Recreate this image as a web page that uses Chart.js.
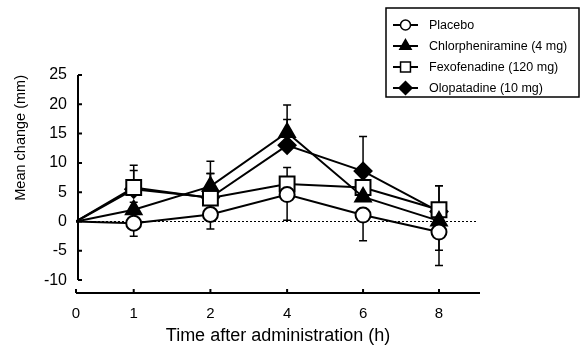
<!DOCTYPE html>
<html>
<head>
<meta charset="utf-8">
<script src="https://cdn.jsdelivr.net/npm/chart.js@4.4.0/dist/chart.umd.min.js"></script>
<style>
  html, body { margin: 0; padding: 0; background: #fff; }
</style>
</head>
<body>
<canvas id="chart" width="581" height="347"></canvas>
<script>
// Time points (h) and where each one sits along the x axis (the axis is not to scale)
const timeLabels = ['0', '1', '2', '4', '6', '8'];
const timeSlots = [0, 0.76, 1.77, 2.78, 3.78, 4.78];
const yTicks = [-10, -5, 0, 5, 10, 15, 20, 25];

const seriesNames = ['Placebo', 'Chlorpheniramine (4 mg)', 'Fexofenadine (120 mg)', 'Olopatadine (10 mg)'];

// Mean change (mm) and error bar (signed: + drawn up, - drawn down)
const placebo = [0, -0.3, 1.2, 4.6, 1.1, -1.8];
const placeboErr = [0, -2.2, -2.5, -4.4, -4.4, -5.7];
const chlorpheniramine = [0, 2.0, 6.0, 15.2, 4.2, 0.1];
const chlorpheniramineErr = [0, 1.3, 4.3, 4.7, 3.8, -5.0];
const fexofenadine = [0, 5.8, 4.0, 6.4, 5.8, 2.0];
const fexofenadineErr = [0, 3.8, 4.2, 2.8, 2.5, 4.1];
const olopatadine = [0, 5.5, 4.1, 13.0, 8.6, 1.7];
const olopatadineErr = [0, 3.2, 4.1, 4.4, 5.9, 4.4];

const FONT = 'Liberation Sans, Arial, sans-serif';

const markers = [
  { style: 'circle', fill: '#fff', radius: 7.5, legendRadius: 5 },
  { style: 'triangle', fill: '#000', radius: 9, legendRadius: 6.5 },
  { style: 'rect', fill: '#fff', radius: 10.5, legendRadius: 7 },
  { style: 'rectRot', fill: '#000', radius: 8.5, legendRadius: 6.5 },
];
const values = [placebo, chlorpheniramine, fexofenadine, olopatadine];
const errors = [placeboErr, chlorpheniramineErr, fexofenadineErr, olopatadineErr];

const datasets = values.map((vals, i) => ({
  label: seriesNames[i],
  data: vals.map((v, j) => ({ x: timeSlots[j], y: v })),
  borderColor: '#000',
  borderWidth: 2,
  pointStyle: markers[i].style,
  pointRadius: vals.map((v, j) => j === 0 ? 0 : markers[i].radius),
  pointBackgroundColor: markers[i].fill,
  pointBorderColor: '#000',
  pointBorderWidth: 2,
  tension: 0,
}));

// Axes, zero line and error bars sit under the markers
const underlay = {
  id: 'underlay',
  beforeDatasetsDraw(chart) {
    const { ctx, chartArea } = chart;
    const xs = chart.scales.x, ys = chart.scales.y;
    ctx.save();
    ctx.strokeStyle = '#000';

    // dotted zero line
    ctx.lineWidth = 1;
    ctx.setLineDash([2, 2]);
    ctx.beginPath();
    ctx.moveTo(chartArea.left + 2, ys.getPixelForValue(0));
    ctx.lineTo(chartArea.right - 2, ys.getPixelForValue(0));
    ctx.stroke();
    ctx.setLineDash([]);

    // y axis (stops at -10) with inward ticks
    const ax = chartArea.left + 2;
    ctx.lineWidth = 2;
    ctx.beginPath();
    ctx.moveTo(ax, ys.getPixelForValue(yTicks[0]));
    ctx.lineTo(ax, ys.getPixelForValue(yTicks[yTicks.length - 1]));
    yTicks.forEach(t => {
      const y = ys.getPixelForValue(t);
      ctx.moveTo(ax, y);
      ctx.lineTo(ax + 4, y);
    });
    ctx.stroke();

    // x axis with upward ticks
    const ay = chartArea.bottom;
    ctx.beginPath();
    ctx.moveTo(chartArea.left, ay);
    ctx.lineTo(chartArea.right, ay);
    timeSlots.forEach(s => {
      const x = xs.getPixelForValue(s);
      ctx.moveTo(x, ay);
      ctx.lineTo(x, ay - 4);
    });
    ctx.stroke();

    // error bars
    ctx.lineWidth = 1.5;
    values.forEach((vals, i) => {
      vals.forEach((v, j) => {
        const e = errors[i][j];
        if (!e) return;
        const x = xs.getPixelForValue(timeSlots[j]);
        const y0 = ys.getPixelForValue(v);
        const y1 = ys.getPixelForValue(v + e);
        ctx.beginPath();
        ctx.moveTo(x, y0);
        ctx.lineTo(x, y1);
        ctx.moveTo(x - 4, y1);
        ctx.lineTo(x + 4, y1);
        ctx.stroke();
      });
    });
    ctx.restore();
  }
};

// Boxed legend in the top right corner
const boxLegend = {
  id: 'boxLegend',
  afterDraw(chart) {
    const { ctx } = chart;
    ctx.save();
    ctx.strokeStyle = '#000';
    ctx.lineWidth = 1.5;
    ctx.strokeRect(386, 8, 193, 89);
    seriesNames.forEach((name, i) => {
      const y = 25 + i * 21;
      ctx.lineWidth = 2;
      ctx.beginPath();
      ctx.moveTo(393, y);
      ctx.lineTo(418, y);
      ctx.stroke();
      ctx.fillStyle = markers[i].fill;
      ctx.lineWidth = 1.5;
      Chart.helpers.drawPoint(ctx, {
        pointStyle: markers[i].style,
        radius: markers[i].legendRadius,
        rotation: 0,
        borderWidth: 1.5,
      }, 405.5, y);
      ctx.fillStyle = '#000';
      ctx.font = '12.5px ' + FONT;
      ctx.textBaseline = 'middle';
      ctx.fillText(name, 429, y + 1);
    });
    ctx.restore();
  }
};

new Chart(document.getElementById('chart'), {
  type: 'line',
  data: { datasets },
  plugins: [underlay, boxLegend],
  options: {
    responsive: false,
    animation: false,
    layout: { padding: { top: 75, right: 101, left: 0, bottom: 0 } },
    plugins: {
      legend: { display: false },
      tooltip: { enabled: false },
    },
    scales: {
      x: {
        type: 'linear',
        min: 0,
        max: 5.32,
        grid: { display: false, drawTicks: false },
        border: { display: false },
        afterBuildTicks: s => { s.ticks = timeSlots.map(v => ({ value: v })); },
        afterFit: s => { s.height = 54; },
        ticks: {
          autoSkip: false,
          maxRotation: 0,
          padding: 12,
          color: '#000',
          font: { family: FONT, size: 15 },
          callback: (v, i) => timeLabels[i],
        },
        title: {
          display: true,
          text: 'Time after administration (h)',
          color: '#000',
          font: { family: FONT, size: 18 },
          padding: { top: 6, bottom: 0 },
        },
      },
      y: {
        min: -12.2,
        max: 25,
        grid: { display: false, drawTicks: false },
        border: { display: false },
        afterBuildTicks: s => { s.ticks = yTicks.map(v => ({ value: v })); },
        afterFit: s => { s.width = 76; },
        ticks: {
          padding: 9,
          color: '#000',
          font: { family: FONT, size: 16 },
        },
        title: {
          display: true,
          text: 'Mean change (mm)',
          align: 'end',
          color: '#000',
          font: { family: FONT, size: 14.5 },
          padding: { top: 12, bottom: 0 },
        },
      },
    },
  },
});
</script>
</body>
</html>
